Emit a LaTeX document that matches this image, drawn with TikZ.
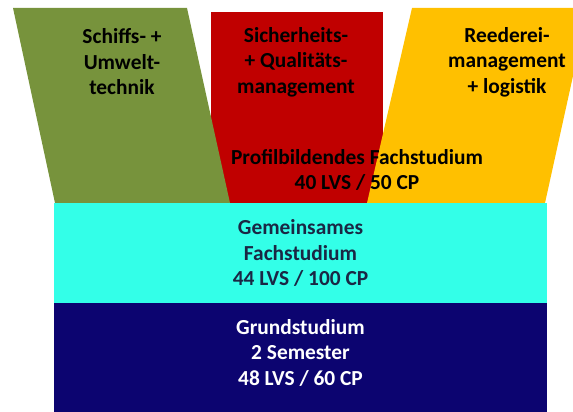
\documentclass[tikz,border=0pt]{standalone}
\usepackage{fontspec}
\setmainfont{Carlito}
\usetikzlibrary{positioning}

\definecolor{olive}{HTML}{77933C}
\definecolor{dunkelrot}{HTML}{C00000}
\definecolor{gold}{HTML}{FFC000}
\definecolor{tuerkis}{HTML}{33FFE8}
\definecolor{marine}{HTML}{0C0470}
\definecolor{tinte}{HTML}{1A2744}

\begin{document}
\begin{tikzpicture}[x=1pt,y=1pt,
	label/.style={align=center,font=\bfseries\fontsize{21.4}{25.5}\selectfont,inner sep=0pt},
	block/.style={minimum width=493pt,inner sep=0pt,outer sep=0pt}]
\useasboundingbox (0,0) rectangle (573,412);
\clip (0,0) rectangle (573,412);
\fill[dunkelrot] (211,400) rectangle (383,209);
\fill[olive] (13,404) -- (187,404) -- (230,209) -- (55,209) -- cycle;
\fill[gold] (412,404) -- (588,404) -- (545,209) -- (367,209) -- cycle;
\node[block,fill=tuerkis,minimum height=100pt] (fach) at (300.5,159) {};
\node[block,fill=marine,minimum height=109pt] (grund) [below=0pt of fach] {};
\node[label]   (schiff)  at (122,350)   {Schiffs- +\\Umwelt-\\technik};
\node[label]   (sicher)  at (296,350)   {Sicherheits-\\+ Qualitäts-\\management};
\node[label]   (reederei) at (507,350)  {Reederei-\\management\\+ logistik};
\node[label]   (profil)  at (357,242)   {Profilbildendes Fachstudium\\40 LVS / 50 CP};
\node[label,text=tinte] at (fach)       {Gemeinsames\\Fachstudium\\44 LVS / 100 CP};
\node[label,text=white] at ([yshift=5pt]grund.center) {Grundstudium\\2 Semester\\48 LVS / 60 CP};
\end{tikzpicture}
\end{document}
